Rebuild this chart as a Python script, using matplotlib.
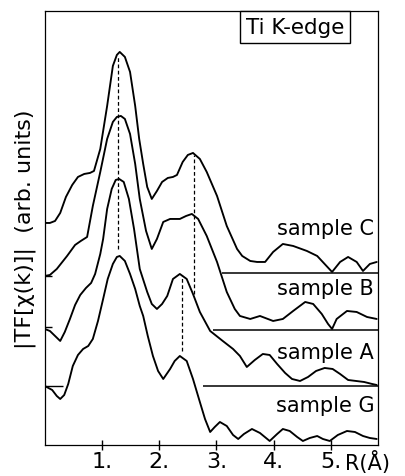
import matplotlib
matplotlib.use("Agg")
import matplotlib.pyplot as plt
from matplotlib.transforms import blended_transform_factory

# ---------------- data (R in Å, |FT| in arbitrary units) ----------------
r_C = [0.00, 0.09, 0.18, 0.27, 0.37, 0.48, 0.58, 0.69, 0.79, 0.86, 0.97, 1.09, 1.19, 1.26,
       1.31, 1.40, 1.49, 1.58, 1.65, 1.72, 1.79, 1.87, 1.96, 2.05, 2.15, 2.24, 2.31, 2.41,
       2.50, 2.59, 2.71, 2.83, 3.01, 3.18, 3.36, 3.45, 3.59, 3.71, 3.85, 3.99, 4.16, 4.34,
       4.58, 4.76, 4.89, 5.02, 5.16, 5.30, 5.45, 5.56, 5.68, 5.80]
ft_C = [22.2, 22.2, 22.4, 23.2, 24.8, 26.0, 26.8, 27.1, 27.2, 27.4, 29.6, 33.9, 37.9, 39.0,
        39.3, 38.8, 37.3, 33.9, 30.6, 28.1, 25.8, 24.6, 25.4, 26.3, 26.7, 26.8, 27.0, 28.3,
        29.0, 29.2, 28.6, 27.3, 24.9, 21.9, 19.6, 18.9, 18.4, 18.3, 18.3, 19.3, 20.1, 19.9,
        19.4, 18.9, 18.1, 17.3, 18.3, 18.8, 18.3, 17.4, 18.1, 18.3]

r_B = [0.00, 0.09, 0.21, 0.39, 0.53, 0.63, 0.74, 0.84, 0.97, 1.09, 1.19, 1.26, 1.33, 1.40,
       1.49, 1.58, 1.66, 1.77, 1.87, 1.96, 2.07, 2.19, 2.36, 2.47, 2.57, 2.68, 2.83, 3.01,
       3.18, 3.32, 3.41, 3.59, 3.76, 3.99, 4.16, 4.34, 4.55, 4.69, 4.84, 4.95, 5.02, 5.10,
       5.28, 5.45, 5.63, 5.80]
ft_B = [16.9, 17.0, 17.6, 18.9, 20.0, 20.4, 20.8, 23.9, 27.3, 30.6, 32.3, 32.8, 32.9, 32.6,
        31.1, 28.1, 24.6, 21.4, 19.6, 20.6, 22.3, 22.6, 22.6, 22.9, 23.1, 22.6, 20.9, 18.3,
        15.3, 13.6, 12.9, 12.6, 12.9, 12.4, 12.6, 13.4, 14.3, 14.1, 13.1, 12.1, 11.6, 12.6,
        13.4, 13.3, 12.8, 12.6]

r_A = [0.00, 0.09, 0.18, 0.27, 0.35, 0.44, 0.53, 0.62, 0.72, 0.81, 0.88, 0.97, 1.02, 1.09,
       1.17, 1.24, 1.30, 1.38, 1.47, 1.56, 1.66, 1.79, 1.87, 1.96, 2.05, 2.14, 2.24, 2.36,
       2.48, 2.59, 2.71, 2.89, 3.11, 3.29, 3.41, 3.53, 3.67, 3.81, 3.93, 4.06, 4.20, 4.32,
       4.46, 4.60, 4.74, 4.89, 5.03, 5.16, 5.30, 5.44, 5.58, 5.72, 5.80]
ft_A = [11.6, 11.4, 10.9, 10.4, 11.3, 12.6, 14.0, 15.0, 15.7, 16.2, 17.1, 19.1, 20.6, 23.6,
        25.6, 26.5, 26.6, 26.3, 24.6, 21.6, 17.6, 15.3, 14.1, 13.6, 14.1, 14.9, 16.6, 17.1,
        16.6, 15.1, 13.3, 11.4, 10.4, 9.6, 8.9, 7.8, 8.5, 9.1, 9.0, 8.1, 7.2, 6.6,
        6.4, 6.8, 7.4, 7.7, 7.6, 7.1, 6.5, 6.4, 6.3, 6.1, 6.0]

r_G = [0.00, 0.13, 0.21, 0.27, 0.34, 0.41, 0.49, 0.58, 0.67, 0.76, 0.84, 0.93, 1.02, 1.10,
       1.19, 1.26, 1.31, 1.40, 1.49, 1.58, 1.66, 1.72, 1.80, 1.89, 1.98, 2.07, 2.19, 2.27,
       2.36, 2.48, 2.59, 2.71, 2.80, 2.89, 2.97, 3.06, 3.18, 3.29, 3.38, 3.48, 3.62, 3.76,
       3.93, 4.06, 4.16, 4.28, 4.41, 4.51, 4.63, 4.76, 4.86, 4.98, 5.12, 5.28, 5.42, 5.56,
       5.68, 5.80]
ft_G = [5.9, 5.5, 4.9, 4.6, 5.0, 6.1, 7.9, 9.0, 9.6, 9.9, 10.6, 12.4, 14.6, 16.6,
        18.1, 18.8, 18.9, 18.4, 17.1, 15.6, 13.9, 12.9, 10.9, 8.9, 7.4, 6.6, 7.6, 8.4,
        8.9, 8.4, 6.6, 4.3, 2.6, 1.3, 1.8, 2.3, 1.9, 1.0, 0.6, 1.1, 1.6, 1.2,
        0.4, 1.1, 1.6, 1.4, 0.8, 0.4, 0.7, 0.9, 0.6, 0.4, 1.0, 1.4, 1.3, 0.9,
        0.7, 0.6]

sample_names = ["sample C", "sample B", "sample A", "sample G"]
label_levels = [21.7, 15.7, 9.3, 4.0]

# baselines of the shifted curves (level, start R)
base_levels = [17.2, 11.5, 5.9]
base_start = [3.10, 2.94, 2.77]
# short reference marks at the left edge (level, end R)
left_levels = [16.9, 11.8, 5.9]
left_end = [0.12, 0.12, 0.32]

# dashed peak markers: R, top, bottom
peak_R = [1.28, 2.61, 2.40]
peak_top = [38.8, 29.0, 17.0]
peak_bot = [19.6, 15.1, 9.4]

xticks = [1, 2, 3, 4, 5]
xticklabels = ["1.", "2.", "3.", "4.", "5."]

# ---------------- figure ----------------
plt.rcParams["font.family"] = ["DejaVu Sans"]

fig = plt.figure(figsize=(4.05, 4.77), dpi=100)
ax = fig.add_axes([0.1105, 0.065, 0.8225, 0.91])
ax.set_xlim(0, 5.82)
ax.set_ylim(0, 43.4)

lw = 1.35
for r, f in [(r_C, ft_C), (r_B, ft_B), (r_A, ft_A), (r_G, ft_G)]:
    ax.plot(r, f, color="black", lw=lw, solid_joinstyle="round", solid_capstyle="round")

for lev, s in zip(base_levels, base_start):
    ax.hlines(lev, s, 5.82, color="black", lw=1.1)
for lev, e in zip(left_levels, left_end):
    ax.hlines(lev, 0, e, color="black", lw=1.0)

for x, t, b in zip(peak_R, peak_top, peak_bot):
    ax.vlines(x, b, t, color="black", lw=0.9, linestyles=(0, (3, 2)))

for name, lev in zip(sample_names, label_levels):
    ax.text(4.90, lev, name, ha="center", va="center", fontsize=15)

ax.text(4.37, 41.8, "Ti K-edge", ha="center", va="center", fontsize=15.5,
        bbox=dict(boxstyle="square,pad=0.28", fc="white", ec="black", lw=1.0))

for sp in ax.spines.values():
    sp.set_linewidth(0.9)

ax.set_xticks(xticks)
ax.set_xticklabels(xticklabels, fontsize=16)
ax.tick_params(axis="x", direction="inout", length=7, width=1.0, pad=1)
ax.set_yticks([])

trans = blended_transform_factory(ax.transData, ax.transAxes)
ax.text(5.25, -0.011, "R(Å)", transform=trans, ha="left", va="top", fontsize=15)

ax.set_ylabel("|TF[χ(k)]|  (arb. units)", fontsize=16, labelpad=6)

fig.savefig("out.png", dpi=100)
